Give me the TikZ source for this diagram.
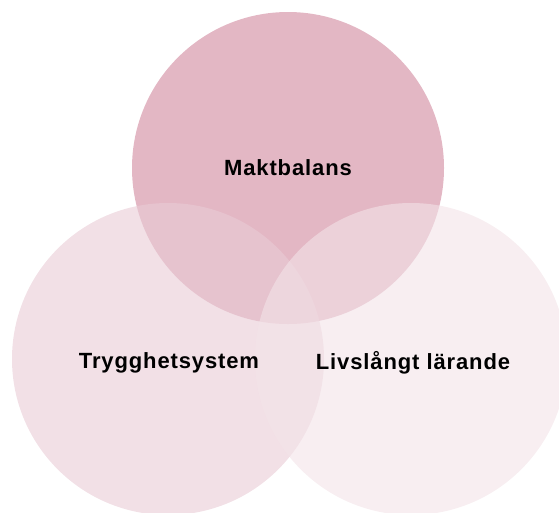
\documentclass[tikz,border=0pt]{standalone}
\usepackage{fontspec}
\setmainfont{Liberation Sans}[LetterSpace=4]
\usetikzlibrary{calc}
\definecolor{maktrosa}{RGB}{227,183,196}
\definecolor{tryggrosa}{RGB}{233,203,213}
\definecolor{livsrosa}{RGB}{243,227,232}
\tikzset{
  cirkel/.style={circle, draw=none, inner sep=0pt, outer sep=0pt, minimum size=312pt},
  etikett/.style={font=\fontsize{22}{26}\selectfont\bfseries, text=black}
}
\begin{document}
\begin{tikzpicture}[x=1pt, y=-1pt]
% ram
                \useasboundingbox (0,0) rectangle (559,512);
% cirklar
                \node [cirkel, fill=maktrosa] (makt) at ( 288, 168 ) {};
                \node [cirkel, fill=tryggrosa, fill opacity=0.6] (trygg) at ( 168, 359 ) {};
                \node [cirkel, fill=livsrosa, fill opacity=0.6] (livs) at ( 411, 359 ) {};
% texter
                \node [etikett] (maktText) at (makt.center) {Maktbalans};
                \node [etikett] (tryggText) at ($(trygg.center)+(1,4)$) {Trygghetsystem};
                \node [etikett] (livsText) at ($(livs.center)+(2,4)$) {Livslångt lärande};
\end{tikzpicture}
\end{document}
